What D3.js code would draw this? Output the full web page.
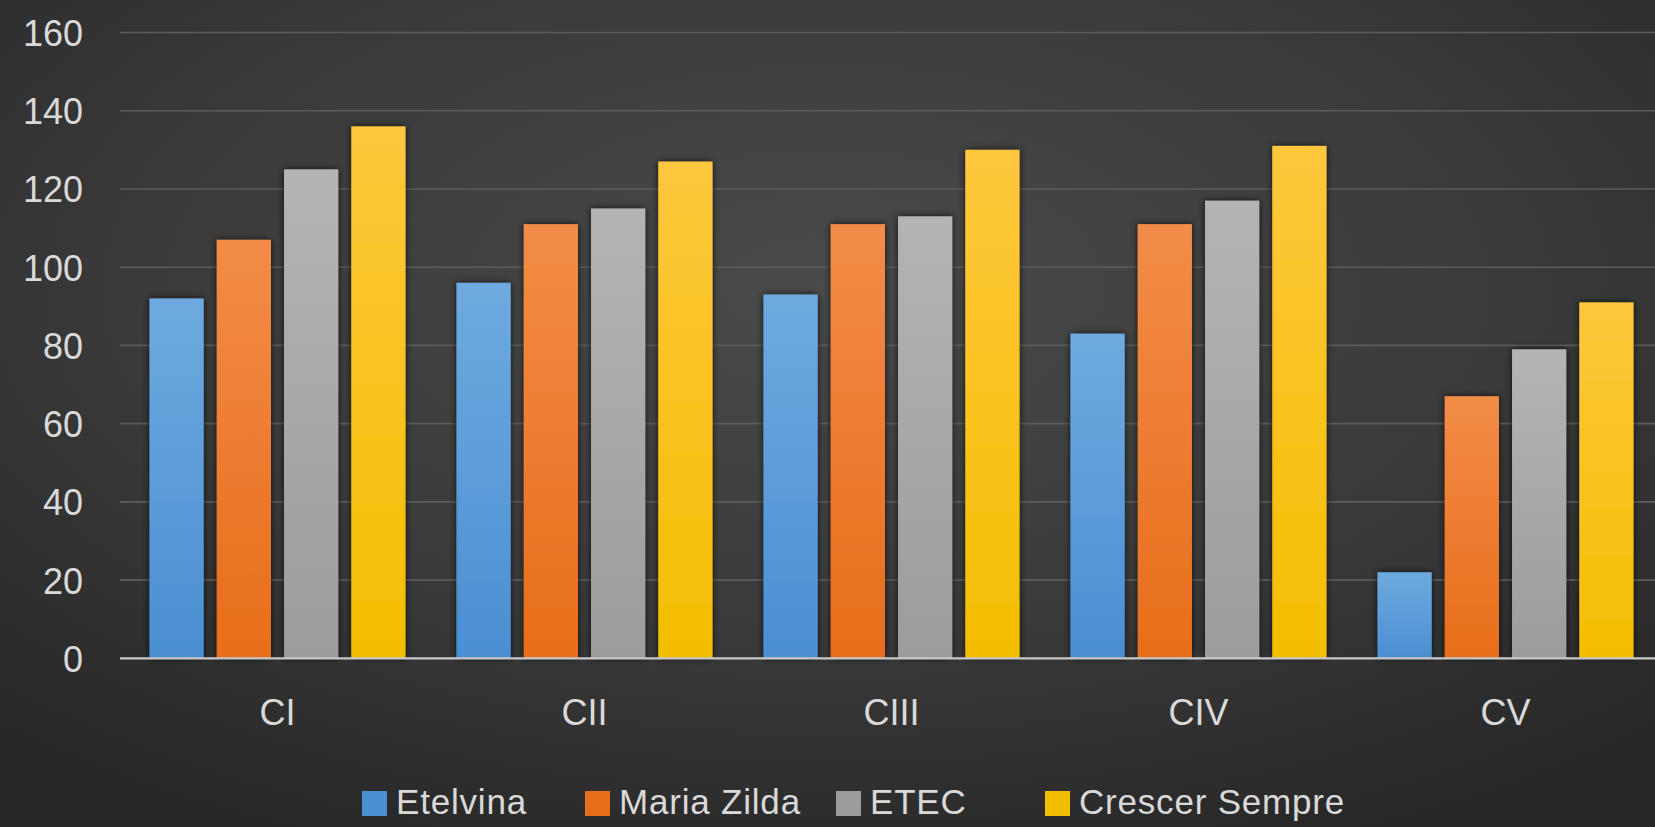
<!DOCTYPE html>
<html>
<head>
<meta charset="utf-8">
<script src="https://cdn.jsdelivr.net/npm/d3@7"></script>
<style>
html,body{margin:0;padding:0;background:#2e2e2e;overflow:hidden;}
svg{display:block;}
</style>
</head>
<body>
<script>
const categories = ["CI", "CII", "CIII", "CIV", "CV"];
const seriesNames = ["Etelvina", "Maria Zilda", "ETEC", "Crescer Sempre"];
const etelvina = [92, 96, 93, 83, 22];
const mariaZilda = [107, 111, 111, 111, 67];
const etec = [125, 115, 113, 117, 79];
const crescerSempre = [136, 127, 130, 131, 91];
const yTicks = [0, 20, 40, 60, 80, 100, 120, 140, 160];
const seriesValues = [etelvina, mariaZilda, etec, crescerSempre];
const colors = [
  {top: "#6eaae0", bot: "#4a8fd2"},
  {top: "#f28c48", bot: "#e86d1a"},
  {top: "#b4b4b4", bot: "#9c9c9c"},
  {top: "#ffc73d", bot: "#f2bf00"}
];

const W = 1655, H = 827;
const svg = d3.select("body").append("svg").attr("width", W).attr("height", H);
const defs = svg.append("defs");

const bg = defs.append("radialGradient").attr("id", "bg")
  .attr("cx", "50%").attr("cy", "35%").attr("r", "75%");
bg.append("stop").attr("offset", "0%").attr("stop-color", "#4a4a4a");
bg.append("stop").attr("offset", "55%").attr("stop-color", "#3a3a3a");
bg.append("stop").attr("offset", "100%").attr("stop-color", "#262626");
svg.append("rect").attr("width", W).attr("height", H).attr("fill", "url(#bg)");

colors.forEach((c, i) => {
  const g = defs.append("linearGradient").attr("id", "g" + i)
    .attr("x1", 0).attr("y1", 0).attr("x2", 0).attr("y2", 1);
  g.append("stop").attr("offset", "0%").attr("stop-color", c.top);
  g.append("stop").attr("offset", "100%").attr("stop-color", c.bot);
});
const f = defs.append("filter").attr("id", "glow")
  .attr("x", "-30%").attr("y", "-10%").attr("width", "160%").attr("height", "120%");
f.append("feDropShadow").attr("dx", 0).attr("dy", 0).attr("stdDeviation", 3.5)
  .attr("flood-color", "#000").attr("flood-opacity", 0.75);

const x0 = d3.scaleBand().domain(categories).range([124, 1659])
  .paddingInner(0.166).paddingOuter(0.083);
const x1 = d3.scaleBand().domain(d3.range(seriesNames.length))
  .range([0, x0.bandwidth()]).paddingInner(0.194).paddingOuter(0);
const y = d3.scaleLinear().domain([0, 160]).range([658.3, 32.5]);

// gridlines
svg.append("g").selectAll("line").data(yTicks.filter(d => d > 0)).join("line")
  .attr("x1", 120).attr("x2", W)
  .attr("y1", d => y(d)).attr("y2", d => y(d))
  .attr("stroke", "#5c5c5c").attr("stroke-width", 1.6);

// y tick labels
const yAxis = d3.axisLeft(y).tickValues(yTicks).tickSize(0).tickPadding(0);
const ya = svg.append("g").attr("transform", "translate(83,0)").call(yAxis);
ya.select(".domain").remove();
ya.selectAll("text").attr("fill", "#d9d9d9")
  .style("font-family", "'Liberation Sans', Arial, sans-serif")
  .style("font-size", "36px").attr("dy", "0.36em");

// bars
const groups = svg.append("g").selectAll("g").data(categories).join("g")
  .attr("transform", d => `translate(${x0(d)},0)`);
groups.selectAll("rect").data((d, ci) => seriesValues.map((s, si) => ({si, v: s[ci]})))
  .join("rect")
  .attr("x", d => x1(d.si)).attr("width", x1.bandwidth())
  .attr("y", d => y(d.v)).attr("height", d => y(0) - y(d.v))
  .attr("fill", d => `url(#g${d.si})`)
  .attr("filter", "url(#glow)");

// zero axis line
svg.append("line").attr("x1", 120).attr("x2", W)
  .attr("y1", y(0)).attr("y2", y(0))
  .attr("stroke", "#c8c8c8").attr("stroke-width", 2.2);

// x labels
const xAxis = d3.axisBottom(x0).tickSize(0).tickPadding(0);
const xa = svg.append("g").attr("transform", `translate(0,${y(0)})`).call(xAxis);
xa.select(".domain").remove();
xa.selectAll("text").attr("fill", "#d9d9d9").attr("y", 67).attr("dy", 0)
  .style("font-family", "'Liberation Sans', Arial, sans-serif")
  .style("font-size", "36px");

// legend
const legendX = [362, 585, 836, 1045];
const lg = svg.append("g").selectAll("g").data(seriesNames).join("g")
  .attr("transform", (d, i) => `translate(${legendX[i]},0)`);
lg.append("rect").attr("x", 0).attr("y", 791).attr("width", 25).attr("height", 25)
  .attr("fill", (d, i) => colors[i].bot);
lg.append("text").attr("x", 34).attr("y", 814).text(d => d)
  .attr("fill", "#d9d9d9")
  .style("font-family", "'Liberation Sans', Arial, sans-serif")
  .style("letter-spacing", "0.8px")
  .style("font-size", "35px");
</script>
</body>
</html>
